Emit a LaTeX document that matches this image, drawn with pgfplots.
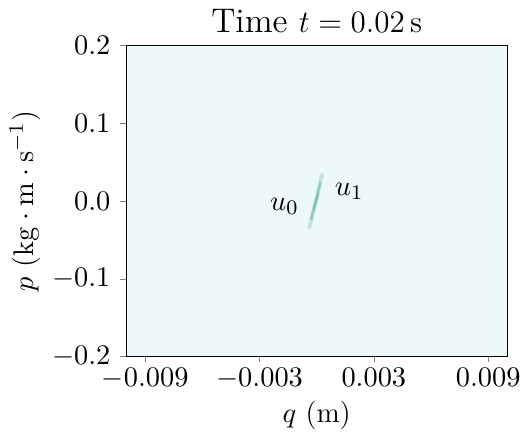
\documentclass[border=0pt]{standalone}
\usepackage{pgfplots}
\pgfplotsset{compat=1.18}
\definecolor{bgcol}{RGB}{237,248,250}
\definecolor{blob}{RGB}{90,185,150}
\begin{document}
\fontsize{11}{13}\selectfont
\begin{tikzpicture}
  \begin{axis}[
      scale only axis,
      width=147pt,
      height=120pt,
      xmin=-0.01, xmax=0.01,
      ymin=-0.2, ymax=0.2,
      xtick={-0.009,-0.003,0.003,0.009},
      ytick={-0.2,-0.1,0,0.1,0.2},
      scaled x ticks=false,
      scaled y ticks=false,
      xticklabel style={yshift=1.5pt, /pgf/number format/.cd, fixed, fixed zerofill, precision=3},
      yticklabel style={/pgf/number format/.cd, fixed, fixed zerofill, precision=1},
      tick align=outside,
      tick pos=left,
      major tick length=2.2pt,
      axis line style={line width=0.5pt},
      axis background/.style={fill=bgcol},
      title={Time $t=0.02\,\mathrm{s}$},
      title style={yshift=-5pt, font=\fontsize{13.2}{15}\selectfont},
      xlabel={$q$ (m)},
      ylabel={$p$ ($\mathrm{kg}\cdot\mathrm{m}\cdot\mathrm{s}^{-1}$)},
      xlabel style={yshift=3pt},
      ylabel style={yshift=-3pt},
  ]

  % phase-space density, drawn as layered strokes
  \addplot[blob, opacity=0.3, line width=1.5pt, line cap=round] coordinates {
  (-0.00038,-0.034) (0.00028,0.034)
  };
  \addplot[blob, opacity=0.5, line width=0.9pt] coordinates {
  (-0.0003,-0.024) (0.0002,0.024)
  };
  \addplot[blob!80!black, opacity=0.45, line width=0.45pt] coordinates {
  (-0.00015,-0.010) (0.0001,0.010)
  };

  \node at (axis cs:-0.0017,-0.007) {$u_0$};
  \node at (axis cs:0.0017,0.013) {$u_1$};

  \end{axis}
\end{tikzpicture}
\end{document}
